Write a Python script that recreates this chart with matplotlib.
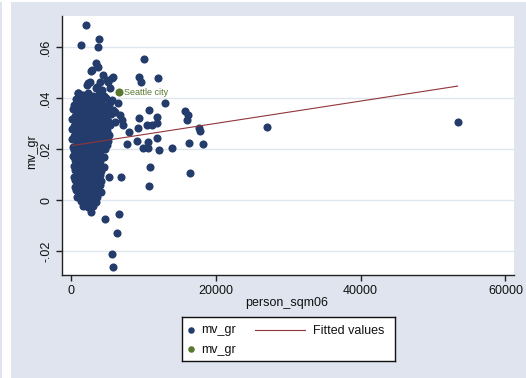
import numpy as np
import matplotlib
matplotlib.use("Agg")
import matplotlib.pyplot as plt
from matplotlib.patches import Rectangle

plt.rcParams['font.family'] = ['Liberation Sans', 'DejaVu Sans']

# scattered cities outside the dense cluster (person_sqm06, mv_gr)
out_x = [2070, 1420, 3910, 3770, 10080, 3400, 2850, 4460, 9430, 9620,
         12060, 5620, 5150, 2620, 2170, 3450, 1010, 1340, 12980, 15740,
         16120, 15980, 10810, 9430, 11920, 10450, 11140, 11920, 9210, 8050,
         17720, 17810, 11920, 9160, 10680, 7780, 16250, 18190, 9990, 10680,
         12110, 13910, 10910, 16430, 5290, 6950, 10810, 27020, 53400, 4700,
         6670, 6310, 5620, 5760, 6770, 7000, 7230, 6080, 5390, 6530,
         3770, 3690, 2760, 2310, 4000, 4930, 5840, 3550, 6080, 3550,
         5400, 4300]
out_y = [0.0688, 0.0607, 0.0630, 0.0600, 0.0552, 0.0539, 0.0510, 0.0490, 0.0484, 0.0464,
         0.0477, 0.0477, 0.0464, 0.0464, 0.0451, 0.0438, 0.0421, 0.0412, 0.0382, 0.0349,
         0.0333, 0.0314, 0.0353, 0.0320, 0.0327, 0.0294, 0.0294, 0.0301, 0.0281, 0.0268,
         0.0281, 0.0272, 0.0244, 0.0231, 0.0229, 0.0220, 0.0222, 0.0220, 0.0203, 0.0203,
         0.0196, 0.0203, 0.0128, 0.0105, 0.0089, 0.0089, 0.0055, 0.0288, 0.0307, -0.0075,
         -0.0056, -0.0131, -0.0210, -0.0261, 0.0333, 0.0314, 0.0294, 0.0307, 0.0386, 0.0379,
         0.0088, 0.0523, 0.0506, 0.0458, 0.0464, 0.0471, 0.0484, 0.0442, 0.0346, 0.0442,
         0.0440, 0.0432]

# dense cluster of small-area cities, read row by row
blob_x = [1000, 1700, 2400, 3100, 3800, 4500,
          700, 1400, 2100, 2800, 3500, 4200, 4900, 5600,
          400, 1100, 1800, 2500, 3200, 3900, 4600, 5300,
          250, 900, 1600, 2300, 3000, 3700, 4400, 5100, 5800,
          550, 1250, 1950, 2650, 3350, 4050, 4750, 5500,
          200, 900, 1600, 2300, 3000, 3700, 4400, 5100,
          450, 1150, 1850, 2550, 3250, 3950, 4650, 5350,
          150, 800, 1500, 2200, 2900, 3600, 4300, 5000,
          400, 1100, 1800, 2500, 3200, 3900, 4600, 5300,
          150, 850, 1550, 2250, 2950, 3650, 4350, 5050,
          230, 800, 1500, 2200, 2900, 3600, 4300, 5000,
          450, 1150, 1850, 2550, 3250, 3950, 4650,
          300, 1000, 1700, 2400, 3100, 3800, 4500,
          550, 1250, 1950, 2650, 3350, 4050,
          350, 1050, 1750, 2450, 3150, 3850, 4550,
          550, 1300, 2000, 2700, 3400, 4100,
          450, 1150, 1850, 2550, 3250, 3950,
          600, 1300, 2000, 2700, 3400, 4100,
          500, 1200, 1900, 2600, 3300, 4000,
          700, 1400, 2100, 2800, 3500, 4200,
          800, 1500, 2200, 2900, 3600,
          1400, 2100, 2800, 3400,
          1600, 2400, 3100,
          2800]
blob_y = [0.0418, 0.0412, 0.0420, 0.0410, 0.0416, 0.0409,
          0.0398, 0.0391, 0.0400, 0.0393, 0.0397, 0.0390, 0.0399, 0.0392,
          0.0372, 0.0378, 0.0371, 0.0377, 0.0373, 0.0379, 0.0370, 0.0376,
          0.0357, 0.0351, 0.0356, 0.0350, 0.0358, 0.0352, 0.0355, 0.0349, 0.0354,
          0.0331, 0.0337, 0.0332, 0.0338, 0.0330, 0.0336, 0.0333, 0.0339,
          0.0318, 0.0312, 0.0317, 0.0311, 0.0316, 0.0313, 0.0319, 0.0310,
          0.0292, 0.0298, 0.0291, 0.0297, 0.0293, 0.0299, 0.0290, 0.0296,
          0.0278, 0.0272, 0.0277, 0.0271, 0.0276, 0.0273, 0.0279, 0.0270,
          0.0252, 0.0258, 0.0251, 0.0257, 0.0253, 0.0259, 0.0250, 0.0256,
          0.0238, 0.0232, 0.0237, 0.0231, 0.0236, 0.0233, 0.0239, 0.0230,
          0.0209, 0.0218, 0.0213, 0.0217, 0.0211, 0.0219, 0.0214, 0.0216,
          0.0198, 0.0192, 0.0197, 0.0191, 0.0196, 0.0193, 0.0199,
          0.0172, 0.0178, 0.0171, 0.0177, 0.0173, 0.0179, 0.0170,
          0.0158, 0.0152, 0.0157, 0.0151, 0.0156, 0.0153,
          0.0132, 0.0138, 0.0131, 0.0137, 0.0133, 0.0139, 0.0130,
          0.0118, 0.0112, 0.0117, 0.0111, 0.0116, 0.0113,
          0.0092, 0.0098, 0.0091, 0.0097, 0.0093, 0.0099,
          0.0078, 0.0072, 0.0077, 0.0071, 0.0076, 0.0073,
          0.0052, 0.0058, 0.0051, 0.0057, 0.0053, 0.0059,
          0.0038, 0.0032, 0.0037, 0.0031, 0.0036, 0.0033,
          0.0012, 0.0018, 0.0011, 0.0017, 0.0013,
          -0.0002, -0.0008, -0.0003, -0.0007,
          -0.0022, -0.0028, -0.0024,
          -0.0046]

# highlighted city
seattle_x = [6670]
seattle_y = [0.0424]
seattle_label = "Seattle city"

# fitted values line (endpoints)
fit_x = [230, 53400]
fit_y = [0.0214, 0.0447]

xticks = [0, 20000, 40000, 60000]
yticks = [-0.02, 0, 0.02, 0.04, 0.06]
ytick_labels = ['-.02', '0', '.02', '.04', '.06']

navy = '#233C6B'
green = '#58782F'
maroon = '#90353B'
bg = '#DFE4EE'
grid_c = '#E0E6F0'

W, H = 526, 378
fig = plt.figure(figsize=(W / 100, H / 100), dpi=100, facecolor=bg)
# thin white margin at the left and top of the screenshot
fig.patches.append(Rectangle((2 / W, 0), 9 / W, 1, transform=fig.transFigure,
                             facecolor='white', edgecolor='none', zorder=-1))
fig.patches.append(Rectangle((0, 1 - 2 / H), 1, 2 / H, transform=fig.transFigure,
                             facecolor='white', edgecolor='none', zorder=-1))

ax = fig.add_axes([62 / W, (H - 275) / H, (514 - 62) / W, (275 - 16) / H])
ax.set_facecolor('white')

all_x = np.array(blob_x + out_x)
all_y = np.array(blob_y + out_y)
ax.scatter(all_x, all_y, s=34, color=navy, linewidths=0, zorder=3)
ax.scatter(seattle_x, seattle_y, s=34, color=green, linewidths=0, zorder=4)
ax.annotate(seattle_label, (seattle_x[0], seattle_y[0]), xytext=(3.5, -0.5),
            textcoords='offset points', va='center', ha='left',
            color=green, fontsize=6.5, zorder=5)
ax.plot(fit_x, fit_y, color=maroon, lw=0.8, zorder=5)

ax.set_xlim(-1243, 61188)
ax.set_ylim(-0.0294, 0.0722)
ax.set_xticks(xticks)
ax.set_xticklabels([str(v) for v in xticks])
ax.set_yticks(yticks)
ax.set_yticklabels(ytick_labels, rotation=90, va='center')
ax.grid(axis='y', color=grid_c, lw=1.0, zorder=0)
ax.set_axisbelow(True)

for side in ['top', 'right']:
    ax.spines[side].set_visible(False)
for side in ['left', 'bottom']:
    ax.spines[side].set_color('#222222')
    ax.spines[side].set_linewidth(1.0)
ax.tick_params(axis='both', length=4, width=1.0, color='#222222',
               labelsize=9, labelcolor='#111111', pad=3)

fig.text(287 / W, 1 - 303 / H, 'person_sqm06', ha='center', va='center',
         fontsize=9, color='#111111')
fig.text(32 / W, 1 - 152 / H, 'mv_gr', ha='center', va='center',
         rotation=90, fontsize=9, color='#111111')

# legend box
lx, ly, lw_, lh = 181.7, 317.3, 213.6, 43.4
lax = fig.add_axes([lx / W, (H - ly - lh) / H, lw_ / W, lh / H])
lax.set_xlim(0, lw_)
lax.set_ylim(lh, 0)
lax.set_xticks([])
lax.set_yticks([])
lax.set_facecolor('white')
for s in lax.spines.values():
    s.set_color('#111111')
    s.set_linewidth(1.0)
lax.scatter([9], [12.7], s=22, color=navy, linewidths=0)
lax.scatter([9], [31.7], s=22, color=green, linewidths=0)
lax.text(19, 13.2, 'mv_gr', va='center', ha='left', fontsize=9, color='#111111')
lax.text(19, 32.2, 'mv_gr', va='center', ha='left', fontsize=9, color='#111111')
lax.plot([73.3, 123.3], [12.7, 12.7], color=maroon, lw=0.8)
lax.text(131, 13.2, 'Fitted values', va='center', ha='left', fontsize=9,
         color='#111111')

fig.savefig('out.png', dpi=100, facecolor=bg)
